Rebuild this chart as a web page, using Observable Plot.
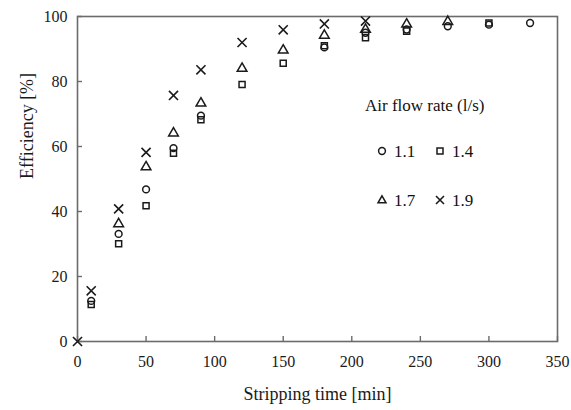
<!DOCTYPE html>
<html>
<head>
<meta charset="utf-8">
<script src="https://cdn.jsdelivr.net/npm/d3@7"></script>
<script src="https://cdn.jsdelivr.net/npm/@observablehq/plot@0.6"></script>
<style>
  html, body { margin: 0; padding: 0; background: #fff; }
  #wrap { position: relative; width: 571px; height: 410px; font-family: "Liberation Serif", "Times New Roman", serif; color: #111; }
  #legend { position: absolute; left: 0; top: 0; width: 571px; height: 410px; pointer-events: none; font-size: 16px; }
  .lt { position: absolute; white-space: nowrap; line-height: 1; }
  .ls { position: absolute; }
</style>
</head>
<body>
<div id="wrap"></div>
<script>
// Data
const legendTitle = "Air flow rate (l/s)";
const seriesNames = ["1.1", "1.4", "1.7", "1.9"];

const t11 = [10, 30, 50, 70, 90, 180, 210, 240, 270, 300, 330];
const e11 = [12.5, 33.1, 46.8, 59.5, 69.5, 90.5, 95, 96, 97, 97.5, 98];

const t14 = [10, 30, 50, 70, 90, 120, 150, 180, 210, 240, 300];
const e14 = [11.4, 30.1, 41.8, 57.9, 68.2, 79.1, 85.6, 91, 93.5, 95.5, 98];

const t17 = [30, 50, 70, 90, 120, 150, 180, 210, 240, 270];
const e17 = [36.2, 53.7, 64.1, 73.3, 84, 89.6, 94.2, 96, 97.6, 98.4];

const t19 = [0, 10, 30, 50, 70, 90, 120, 150, 180, 210];
const e19 = [0, 15.6, 40.8, 58.2, 75.7, 83.6, 92, 95.9, 97.7, 98.6];

const xTicks = [0, 50, 100, 150, 200, 250, 300, 350];
const yTicks = [0, 20, 40, 60, 80, 100];

const xLabel = "Stripping time [min]";
const yLabel = "Efficiency [%]";

const toRows = (ts, es) => ts.map((t, i) => ({t, e: es[i]}));
const s11 = toRows(t11, e11);
const s14 = toRows(t14, e14);
const s17 = toRows(t17, e17);
const s19 = toRows(t19, e19);

const ink = "#1a1a1a";
const axisInk = "#6b6b6b";

const chart = Plot.plot({
  width: 571,
  height: 410,
  marginLeft: 77,
  marginRight: 14,
  marginTop: 16,
  marginBottom: 69,
  style: { fontFamily: "'Liberation Serif', 'Times New Roman', serif", fontSize: "16px", color: ink, background: "#fff" },
  x: { domain: [0, 350] },
  y: { domain: [0, 100] },
  marks: [
    Plot.frame({ stroke: axisInk, strokeWidth: 1.6 }),
    Plot.axisX(xTicks, { tickSize: -5, tickPadding: 19, stroke: axisInk, strokeWidth: 1.4, fill: ink, fontSize: 16, label: null }),
    Plot.axisY(yTicks, { tickSize: -5, tickPadding: 15, stroke: axisInk, strokeWidth: 1.4, fill: ink, fontSize: 16, label: null }),
    Plot.dot(s11, { x: "t", y: "e", symbol: "circle", r: 3.4, stroke: ink, strokeWidth: 1.5, fill: "none" }),
    Plot.dot(s14, { x: "t", y: "e", symbol: "square", r: 3.4, stroke: ink, strokeWidth: 1.5, fill: "none" }),
    Plot.dot(s17, { x: "t", y: "e", symbol: "triangle", r: 3.6, stroke: ink, strokeWidth: 1.5, fill: "none" }),
    Plot.dot(s19, { x: "t", y: "e", symbol: "times", r: 4.2, stroke: ink, strokeWidth: 1.6, fill: "none" }),
    Plot.text([xLabel], { frameAnchor: "bottom", dy: 58, fontSize: 18, fill: ink }),
    Plot.text([yLabel], { frameAnchor: "left", dx: -50, rotate: -90, fontSize: 18, fill: ink })
  ]
});

const wrap = document.getElementById("wrap");
wrap.appendChild(chart);

// Legend overlay (inside plot area, as in the reference)
const legend = document.createElement("div");
legend.id = "legend";
const sym = {
  "1.1": '<circle cx="6" cy="6" r="3.4" fill="none" stroke="' + ink + '" stroke-width="1.5"/>',
  "1.4": '<rect x="3" y="3" width="6" height="6" fill="none" stroke="' + ink + '" stroke-width="1.5"/>',
  "1.7": '<path d="M6,1.8L10,8.8L2,8.8Z" fill="none" stroke="' + ink + '" stroke-width="1.5"/>',
  "1.9": '<path d="M2,2L10,10M10,2L2,10" fill="none" stroke="' + ink + '" stroke-width="1.6"/>'
};
let html = '<div class="lt" style="left:365px;top:97px;font-size:17px">' + legendTitle + '</div>';
const cols = [376, 434];
const rows = [145, 194];
seriesNames.forEach((name, i) => {
  const cx = cols[i % 2], cy = rows[Math.floor(i / 2)];
  html += '<svg class="ls" width="12" height="12" style="left:' + cx + 'px;top:' + cy + 'px">' + sym[name] + '</svg>';
  html += '<div class="lt" style="left:' + (cx + 18) + 'px;top:' + (cy - 2) + 'px;font-size:17px">' + name + '</div>';
});
legend.innerHTML = html;
wrap.appendChild(legend);
</script>
</body>
</html>
